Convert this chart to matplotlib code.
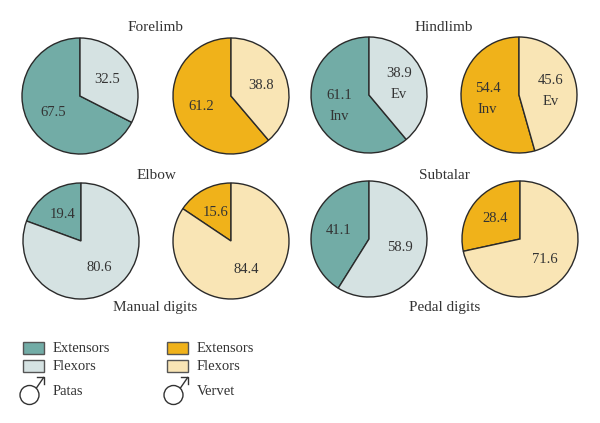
import matplotlib
matplotlib.use("Agg")
import matplotlib.pyplot as plt
from matplotlib.patches import Rectangle, Circle

# extensor share (%) of each joint group, patas and vervet
groups = ["Forelimb", "Hindlimb", "Elbow", "Subtalar"]
patas_ext = [67.5, 61.1, 19.4, 41.1]
patas_flex = [32.5, 38.9, 80.6, 58.9]
vervet_ext = [61.2, 54.4, 15.6, 28.4]
vervet_flex = [38.8, 45.6, 84.4, 71.6]
sub_labels = {"Hindlimb": ("Inv", "Ev")}
bottom_titles = ["Manual digits", "Pedal digits"]

teal = "#72aca6"
teal_light = "#d5e2e2"
gold = "#f0b21a"
gold_light = "#f9e5b5"
edge = "#2a2a2a"
txt = "#333333"

W, H = 600, 423
fig = plt.figure(figsize=(6.0, 4.23), dpi=100)
ax = fig.add_axes([0, 0, 1, 1])

serif = "Liberation Serif"

def Y(py):
    return H - py

# layout in pixels: (patas center x, vervet center x, center y, title y)
layout = {
    "Forelimb": (80, 231, 96, 27),
    "Hindlimb": (369, 519, 95, 27),
    "Elbow": (81, 231, 241, 175),
    "Subtalar": (369, 520, 239, 175),
}
R = 58

for i, g in enumerate(groups):
    px, vx, cy, ty = layout[g]
    for cx, vals, cols in [
        (px, [patas_ext[i], patas_flex[i]], [teal, teal_light]),
        (vx, [vervet_ext[i], vervet_flex[i]], [gold, gold_light]),
    ]:
        labs = ["%.1f" % v for v in vals]
        if g in sub_labels:
            labs = [l + "\n" + s for l, s in zip(labs, sub_labels[g])]
        wedges, texts = ax.pie(vals, colors=cols, startangle=90, counterclock=True,
                               center=(cx, Y(cy)), radius=R, labels=labs,
                               labeldistance=0.55, frame=True,
                               wedgeprops=dict(edgecolor=edge, linewidth=1.0),
                               textprops=dict(family=serif, fontsize=10.5, color=txt,
                                              ha="center", va="center", linespacing=1.8))
        for t in texts:
            t.set_ha("center")
    ax.text((px + vx) / 2, Y(ty), g, family=serif,
            fontsize=11, color=txt, ha="center", va="center")

ax.text(155, Y(308), bottom_titles[0], family=serif, fontsize=11, color=txt, ha="center", va="center")
ax.text(445, Y(308), bottom_titles[1], family=serif, fontsize=11, color=txt, ha="center", va="center")

# legend
legend_cols = [(23, [teal, teal_light], "Patas"), (167, [gold, gold_light], "Vervet")]
for x0, cols, name in legend_cols:
    for k, (c, lab) in enumerate(zip(cols, ["Extensors", "Flexors"])):
        yc = 348 + 18 * k
        ax.add_patch(Rectangle((x0, Y(yc + 6)), 21, 12, facecolor=c, edgecolor="#555555", lw=1.0))
        ax.text(x0 + 30, Y(yc), lab, family=serif, fontsize=10.5, color=txt, ha="left", va="center")
    # male symbol
    ccx, ccy, cr = x0 + 6.5, Y(395), 9.5
    ax.add_patch(Circle((ccx, ccy), cr, facecolor="white", edgecolor=txt, lw=1.0))
    tipx, tipy = x0 + 21, Y(377)
    sx, sy = ccx + cr * 0.7071, ccy + cr * 0.7071
    ax.plot([sx, tipx], [sy, tipy], color=txt, lw=1.0, solid_capstyle="butt")
    ax.plot([tipx - 7, tipx, tipx], [tipy, tipy, tipy - 7], color=txt, lw=1.0)
    ax.text(x0 + 30, Y(391), name, family=serif, fontsize=10.5, color=txt, ha="left", va="center")

ax.set_xlim(0, W)
ax.set_ylim(0, H)
ax.set_aspect("equal")
ax.axis("off")

fig.savefig("out.png", dpi=100)
